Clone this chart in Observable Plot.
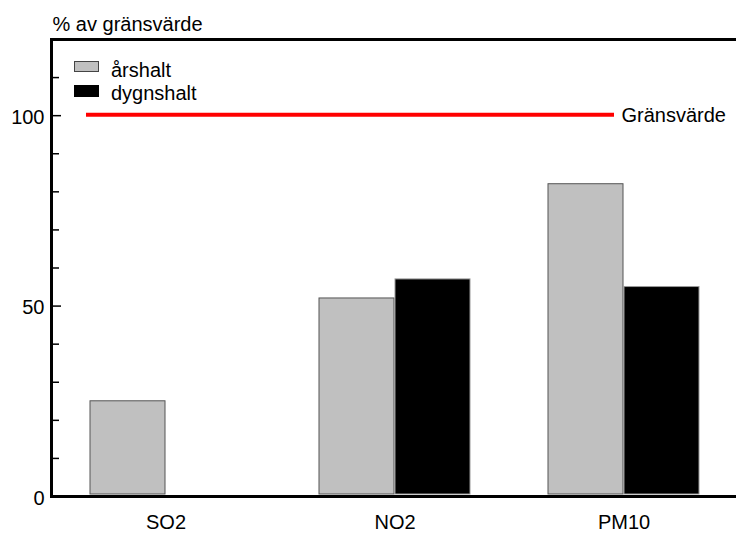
<!DOCTYPE html>
<html>
<head>
<meta charset="utf-8">
<script src="https://cdn.jsdelivr.net/npm/d3@7"></script>
<script src="https://cdn.jsdelivr.net/npm/@observablehq/plot@0.6"></script>
<style>
  html, body { margin: 0; padding: 0; background: #fff; }
  #chart { position: relative; width: 736px; height: 533px; font-family: "Liberation Sans", Arial, sans-serif; }
  .lg { position: absolute; left: 74px; font-size: 20px; color: #000; height: 24px; line-height: 24px; white-space: nowrap; }
  .sw { position: absolute; left: 0; width: 25px; box-sizing: border-box; }
  .lt { position: absolute; left: 37px; }
</style>
</head>
<body>
<div id="chart"></div>
<script>
const categories = ["SO2", "NO2", "PM10"];
const series = ["årshalt", "dygnshalt"];
const arshalt = [25, 52, 82];
const dygnshalt = [null, 57, 55];
const limitValue = 100;
const limitLabel = "Gränsvärde";
const yLabel = "% av gränsvärde";
const majorTicks = [0, 50, 100];
const minorTicks = [10, 20, 30, 40, 60, 70, 80, 90, 110];

const colors = {"årshalt": "#c0c0c0", "dygnshalt": "#000000"};

const rowsA = categories.map((c, i) => ({cat: c, value: arshalt[i]})).filter(d => d.value != null);
const rowsD = categories.map((c, i) => ({cat: c, value: dygnshalt[i]})).filter(d => d.value != null);

const plotW = 736 - 51 + 2;

const plot = Plot.plot({
  width: 736,
  height: 533,
  marginLeft: 51,
  marginRight: -2,
  marginTop: 39,
  marginBottom: 37,
  style: {fontFamily: "'Liberation Sans', Arial, sans-serif", fontSize: "20px", color: "#000", background: "#fff"},
  x: {domain: categories, paddingInner: 0.342, paddingOuter: 0.171, label: null},
  y: {domain: [0, 120], label: null},
  marks: [
    Plot.barY(rowsA, {x: "cat", y: "value", fill: colors["årshalt"], stroke: "#555", strokeWidth: 1, insetRight: 76, insetBottom: 2}),
    Plot.barY(rowsD, {x: "cat", y: "value", fill: colors["dygnshalt"], stroke: "#999", strokeWidth: 1, insetLeft: 76, insetBottom: 2}),
    Plot.ruleY([limitValue], {stroke: "#ff0000", strokeWidth: 4, insetLeft: 35, insetRight: 124, dy: -1}),
    Plot.text([limitLabel], {y: [limitValue], text: d => d, frameAnchor: "right", textAnchor: "start", dx: -117, fontSize: 20}),
    Plot.ruleY(minorTicks, {stroke: "#000", strokeWidth: 1.5, insetRight: plotW - 8}),
    Plot.ruleY(majorTicks, {stroke: "#000", strokeWidth: 1.5, insetRight: plotW - 10}),
    Plot.frame({stroke: "#000", strokeWidth: 3}),
    Plot.axisY(majorTicks, {tickSize: 0, tickPadding: 7, fontSize: 20, dy: 2, label: null}),
    Plot.axisX({tickSize: 0, tickPadding: 18, fontSize: 20, label: null}),
    Plot.text([yLabel], {frameAnchor: "top-left", textAnchor: "start", lineAnchor: "bottom", dy: -9, dx: 1, text: d => d, fontSize: 20})
  ]
});

const chart = document.getElementById("chart");
chart.appendChild(plot);
const legendTops = [58, 81];
series.forEach((s, i) => {
  const item = document.createElement("div");
  item.className = "lg";
  item.style.top = legendTops[i] + "px";
  item.innerHTML = `<span class="sw" style="top:${i === 0 ? 3 : 4}px;height:${i === 0 ? 11 : 12}px;background:${colors[s]};border:1px solid ${i === 0 ? "#444" : "#000"}"></span><span class="lt">${s}</span>`;
  chart.appendChild(item);
});
</script>
</body>
</html>
